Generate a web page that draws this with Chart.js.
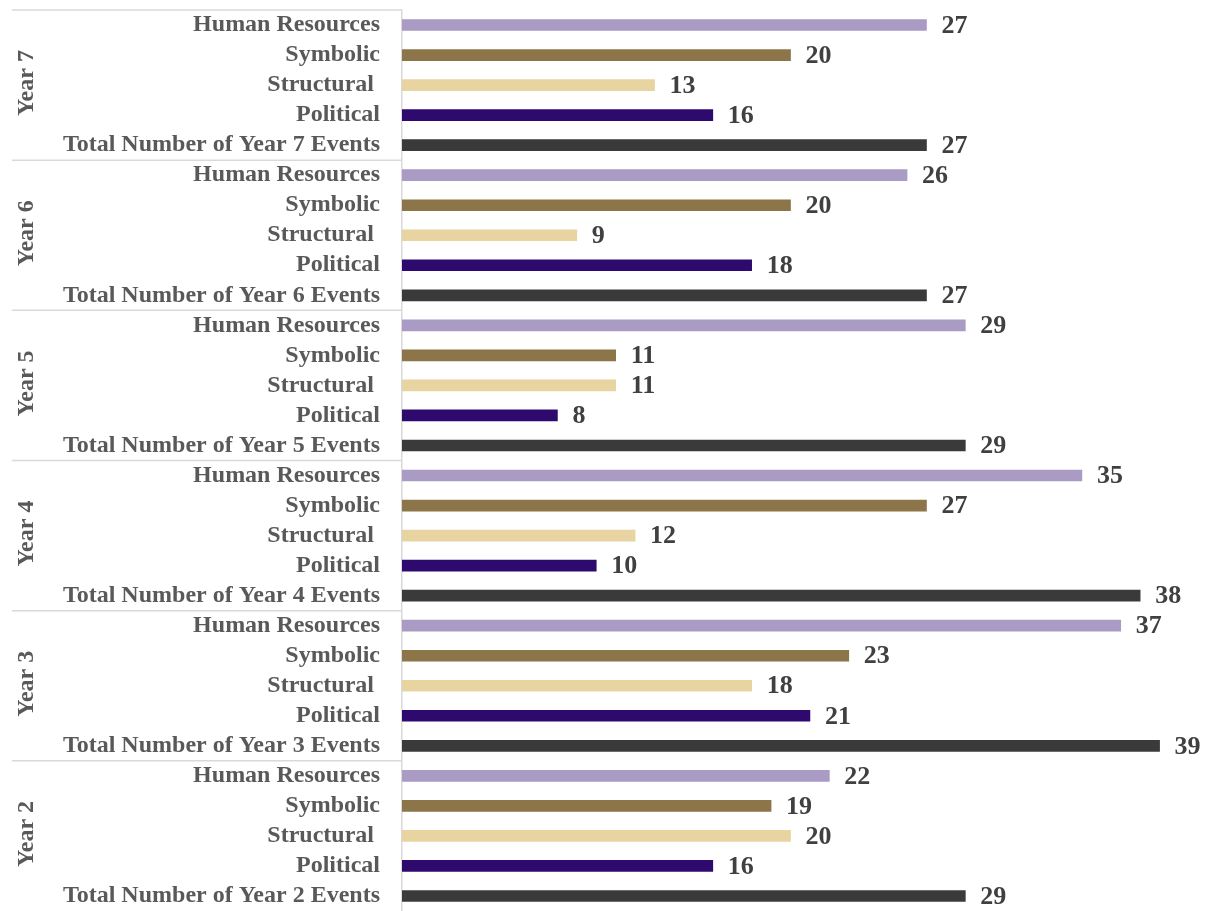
<!DOCTYPE html>
<html>
<head>
<meta charset="utf-8">
<script src="https://cdn.jsdelivr.net/npm/chart.js@4.4.1/dist/chart.umd.min.js"></script>
<style>
  html, body { margin: 0; padding: 0; background: #fff; }
  #wrap { position: relative; width: 1209px; height: 911px; }
</style>
</head>
<body>
<div id="wrap"><canvas id="chart"></canvas></div>
<script>
"use strict";

// groups from top to bottom
const YEARS = ["Year 7", "Year 6", "Year 5", "Year 4", "Year 3", "Year 2"];
const CATEGORIES = ["Human Resources", "Symbolic", "Structural ", "Political", "Total"];

const HUMAN_RESOURCES = [27, 26, 29, 35, 37, 22];
const SYMBOLIC = [20, 20, 11, 27, 23, 19];
const STRUCTURAL = [13, 9, 11, 12, 18, 20];
const POLITICAL = [16, 18, 8, 10, 21, 16];
const TOTAL_EVENTS = [27, 27, 29, 38, 39, 29];

const COLORS = {
  hr: "#a99bc3",
  symbolic: "#8b7549",
  structural: "#e8d4a0",
  political: "#2e0a6e",
  total: "#3a3a3a",
  label: "#595959",
  value: "#404040",
  rule: "#d9d9d9",
};

const FONT = "'Liberation Serif', 'Times New Roman', serif";

const labels = [];
const values = [];
const barColors = [];
const catColors = [COLORS.hr, COLORS.symbolic, COLORS.structural, COLORS.political, COLORS.total];
const series = [HUMAN_RESOURCES, SYMBOLIC, STRUCTURAL, POLITICAL, TOTAL_EVENTS];

YEARS.forEach((year, g) => {
  CATEGORIES.forEach((cat, c) => {
    labels.push(cat === "Total" ? `Total Number of ${year} Events` : cat);
    values.push(series[c][g]);
    barColors.push(catColors[c]);
  });
});

const groupPlugin = {
  id: "groups",
  afterDraw(chart) {
    const ctx = chart.ctx;
    const y = chart.scales.y;
    const per = CATEGORIES.length;
    ctx.save();
    ctx.strokeStyle = COLORS.rule;
    ctx.lineWidth = 1.5;
    YEARS.forEach((year, g) => {
      const first = g * per;
      const last = first + per - 1;
      const top = first === 0 ? y.top : (y.getPixelForValue(first - 1) + y.getPixelForValue(first)) / 2;
      ctx.beginPath();
      ctx.moveTo(12, top);
      ctx.lineTo(y.right, top);
      ctx.stroke();

      const mid = (y.getPixelForValue(first) + y.getPixelForValue(last)) / 2;
      ctx.save();
      ctx.translate(27, mid - 2);
      ctx.rotate(-Math.PI / 2);
      ctx.fillStyle = COLORS.label;
      ctx.font = `bold 24px ${FONT}`;
      ctx.textAlign = "center";
      ctx.textBaseline = "middle";
      ctx.fillText(year, 0, 0);
      ctx.restore();
    });
    ctx.restore();
  },
  afterDatasetsDraw(chart) {
    const ctx = chart.ctx;
    const meta = chart.getDatasetMeta(0);
    ctx.save();
    ctx.fillStyle = COLORS.value;
    ctx.font = `bold 26px ${FONT}`;
    ctx.textAlign = "left";
    ctx.textBaseline = "middle";
    meta.data.forEach((bar, i) => {
      ctx.fillText(String(values[i]), bar.x + 15, bar.y + 1);
    });
    ctx.restore();
  },
};

new Chart(document.getElementById("chart"), {
  type: "bar",
  data: {
    labels,
    datasets: [{
      data: values,
      backgroundColor: barColors,
      borderWidth: 0,
      barThickness: 11,
    }],
  },
  options: {
    indexAxis: "y",
    responsive: true,
    maintainAspectRatio: false,
    animation: false,
    layout: { padding: { top: 10, right: 30, bottom: -3, left: 0 } },
    plugins: {
      legend: { display: false },
      tooltip: { enabled: false },
    },
    scales: {
      x: {
        display: false,
        min: 0,
        max: 40,
      },
      y: {
        afterFit: s => {
          s.width = 402;
          s.paddingTop = 0;
          s.paddingBottom = 0;
        },
        border: { display: true, color: COLORS.rule, width: 1.5 },
        grid: { display: false, drawTicks: false },
        ticks: {
          autoSkip: false,
          padding: 22,
          color: COLORS.label,
          font: { family: FONT, size: 24, weight: "bold" },
        },
      },
    },
  },
  plugins: [groupPlugin],
});
</script>
</body>
</html>
